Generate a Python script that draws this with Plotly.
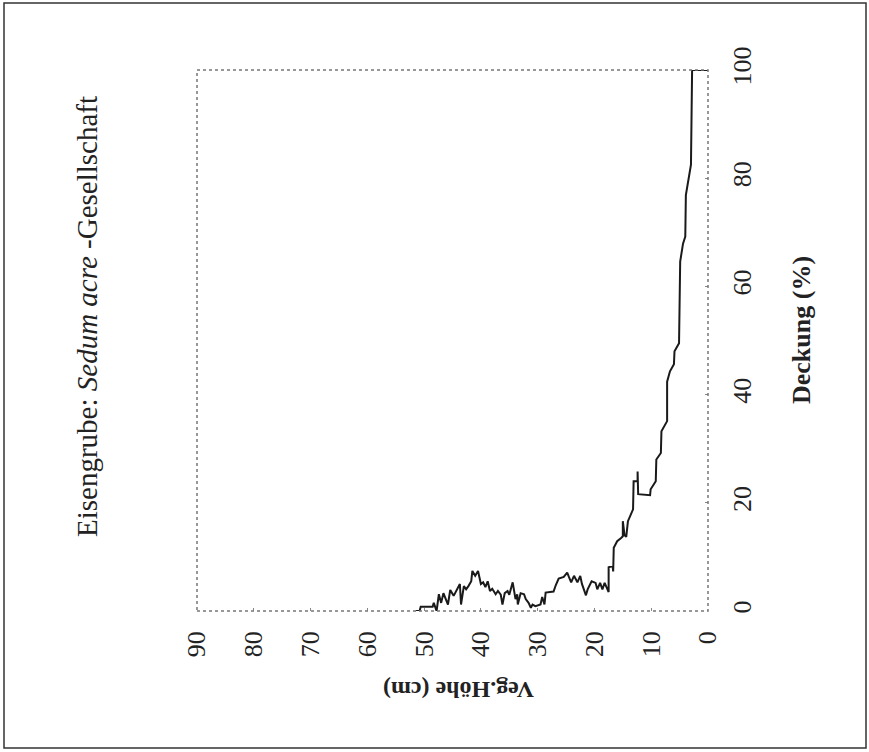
import plotly.graph_objects as go

# Vegetation height (cm) and cover (%) profile
hoehe = [51.5, 50.8, 50.6, 48.5, 48.3, 47.8, 47.4, 47.0, 46.6, 45.8, 45.4, 44.8, 43.7, 43.5,
         43.0, 42.6, 42.2, 41.7, 41.5, 41.0, 40.5, 40.0, 39.6, 39.2, 38.8, 38.4, 38.0, 37.4,
         37.0, 36.5, 36.2, 35.8, 35.3, 35.0, 34.4, 34.1, 33.9, 33.6, 33.5, 33.0, 32.4, 32.1,
         31.6, 31.2, 30.9, 30.4, 29.5, 29.2, 28.8, 28.6, 27.2, 26.8, 26.3, 25.4, 24.8, 24.5,
         24.1, 23.6, 23.0, 22.5, 22.2, 21.5, 21.2, 20.5, 19.8, 19.5, 19.0, 18.6, 18.2, 17.5,
         17.5, 16.8, 16.7, 16.6, 16.0, 15.3, 15.0, 15.0, 14.7, 14.4, 14.1, 13.2, 13.1, 12.4,
         12.4, 12.3, 10.2, 10.1, 9.2, 9.1, 8.3, 8.2, 7.2, 7.2, 6.7, 6.0, 5.9, 5.1, 4.9, 4.4,
         4.0, 3.9, 3.0, 2.8, 0.0]
deckung = [0.0, 0.0, 0.8, 0.8, 1.5, 0.0, 3.1, 1.5, 3.3, 1.2, 3.9, 2.8, 5.0, 1.2,
           4.6, 4.0, 4.6, 5.5, 7.4, 6.5, 7.4, 5.0, 5.3, 4.4, 5.5, 3.7, 4.1, 3.1,
           3.7, 3.0, 1.2, 3.3, 3.7, 3.0, 5.3, 2.8, 2.2, 3.1, 1.2, 3.3, 3.1, 2.2,
           1.5, 0.6, 1.2, 0.9, 1.2, 2.6, 1.2, 3.4, 3.6, 4.8, 6.0, 6.3, 7.1, 6.3,
           5.3, 6.5, 5.3, 6.5, 5.0, 2.9, 4.0, 5.5, 5.2, 4.0, 5.2, 4.0, 5.2, 3.5,
           8.1, 8.3, 7.3, 11.7, 12.9, 13.5, 13.8, 16.6, 14.0, 13.7, 16.6, 18.8, 24.0, 24.0,
           25.8, 21.6, 21.4, 22.5, 24.0, 28.0, 29.2, 33.2, 35.1, 42.4, 44.3, 45.6, 48.0, 49.5, 64.6, 67.9,
           69.2, 76.9, 82.5, 100.0, 100.0]

x_ticks = [0, 10, 20, 30, 40, 50, 60, 70, 80, 90]
y_ticks = [0, 20, 40, 60, 80, 100]

title_html = "Eisengrube: <i>Sedum acre</i> -Gesellschaft"
x_title = "Veg.Höhe (cm)"
y_title = "Deckung (%)"

W, H = 869, 752
L, R, T, B = 197, 708, 70, 611
SERIF = "Liberation Serif, Times New Roman, serif"

def px(x):
    return (x - L) / (R - L)

def py(y):
    return (B - y) / (B - T)

fig = go.Figure()
fig.add_trace(go.Scatter(x=hoehe, y=deckung, mode="lines",
                         line=dict(color="#1a1a1a", width=2), showlegend=False,
                         hoverinfo="skip"))

fig.update_layout(
    width=W, height=H,
    margin=dict(l=L, r=W - R, t=T, b=H - B),
    paper_bgcolor="white", plot_bgcolor="white",
    font=dict(family=SERIF, color="#1a1a1a"),
    xaxis=dict(range=[90, 0], tickvals=x_ticks, tickangle=-90,
               tickfont=dict(size=26, family=SERIF, color="#222"),
               showgrid=False, zeroline=False, showline=False,
               ticks="inside", ticklen=3, tickcolor="#888",
               ticklabelstandoff=14),
    yaxis=dict(range=[0, 100], tickvals=y_ticks, side="right", tickangle=-90,
               tickfont=dict(size=26, family=SERIF, color="#222"),
               showgrid=False, zeroline=False, showline=False,
               ticks="inside", ticklen=3, tickcolor="#888",
               ticklabelstandoff=16),
)

# plot frame (dotted grey)
fig.add_shape(type="rect", xref="paper", yref="paper", x0=0, y0=0, x1=1, y1=1,
              line=dict(color="#777", width=1.5, dash="dot"), layer="above")
# outer page frame
fig.add_shape(type="rect", xref="paper", yref="paper",
              x0=px(4), x1=px(866), y0=py(748), y1=py(3),
              line=dict(color="#333", width=1.5), layer="above")

fig.add_annotation(text="<b>" + x_title + "</b>", xref="paper", yref="paper",
                   x=px(459), y=py(690), showarrow=False, textangle=180,
                   font=dict(size=24, family=SERIF, color="#222"),
                   xanchor="center", yanchor="middle")
fig.add_annotation(text="<b>" + y_title + "</b>", xref="paper", yref="paper",
                   x=px(801), y=py(330), showarrow=False, textangle=-90,
                   font=dict(size=26, family=SERIF, color="#222"),
                   xanchor="center", yanchor="middle")
fig.add_annotation(text=title_html, xref="paper", yref="paper",
                   x=px(87), y=py(317), showarrow=False, textangle=-90,
                   font=dict(size=29, family=SERIF, color="#222"),
                   xanchor="center", yanchor="middle")

fig.write_html("out.html", config={"displayModeBar": False},
               post_script="document.body.style.margin='0';")
